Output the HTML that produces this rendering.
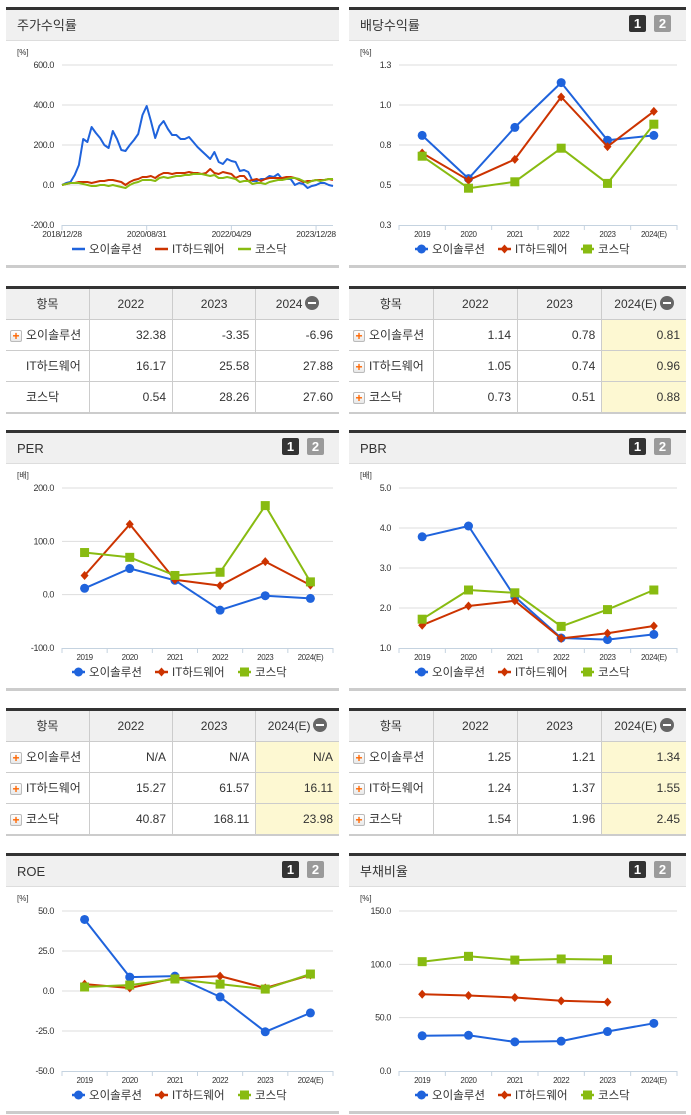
<!DOCTYPE html>
<html><head><meta charset="utf-8">
<style>
*{margin:0;padding:0;box-sizing:border-box}
body{width:691px;height:1115px;background:#fff;position:relative;overflow:hidden;font-family:"Liberation Sans","Noto Sans CJK KR","NanumGothic",sans-serif;color:#333}
.panel{position:absolute}
svg text{font-family:"Liberation Sans","Noto Sans CJK KR","NanumGothic",sans-serif}
table{border-collapse:collapse;width:100%;table-layout:fixed;font-size:12px}
.tbl{position:absolute;border-top:3px solid #333;border-bottom:2px solid #ccc}
.tbl th{background:#f0f0f0;font-weight:normal;height:30px;border-right:1px solid #ccc;border-bottom:1px solid #ccc;color:#333}
.tbl td{height:31px;border-right:1px solid #ccc;border-bottom:1px solid #ccc;text-align:right;padding-right:6px;color:#333}
.tbl tr:last-child td{border-bottom:none}
.tbl th:last-child,.tbl td:last-child{border-right:none}
.tbl td.lab{text-align:left;padding-left:4px;padding-right:0}
.tbl td.hl{background:#fdf8d2}
.plus{display:inline-block;width:12px;height:12px;border:1px solid #bbb;border-radius:2px;background:linear-gradient(#fff,#e8e8e8);color:#f60;font-size:12px;line-height:10px;text-align:center;font-weight:bold;vertical-align:-1px;margin-right:4px}
.minus{display:inline-block;width:14px;height:14px;border-radius:7px;background:#666;position:relative;vertical-align:-2px;margin-left:3px}
.minus:after{content:"";position:absolute;left:3px;top:6px;width:8px;height:2px;background:#fff}
</style></head><body>
<div id="charts"></div>

<div class="tbl" style="left:6px;top:286px;width:333px">
<table><tr><th>항목</th><th>2022</th><th>2023</th><th>2024<span class="minus"></span></th></tr>
<tr><td class="lab"><span class="plus">+</span>오이솔루션</td><td>32.38</td><td>-3.35</td><td>-6.96</td></tr>
<tr><td class="lab" style="padding-left:20px">IT하드웨어</td><td>16.17</td><td>25.58</td><td>27.88</td></tr>
<tr><td class="lab" style="padding-left:20px">코스닥</td><td>0.54</td><td>28.26</td><td>27.60</td></tr></table></div>

<div class="tbl" style="left:349px;top:286px;width:337px">
<table><tr><th>항목</th><th>2022</th><th>2023</th><th>2024(E)<span class="minus"></span></th></tr>
<tr><td class="lab"><span class="plus">+</span>오이솔루션</td><td>1.14</td><td>0.78</td><td class="hl">0.81</td></tr>
<tr><td class="lab"><span class="plus">+</span>IT하드웨어</td><td>1.05</td><td>0.74</td><td class="hl">0.96</td></tr>
<tr><td class="lab"><span class="plus">+</span>코스닥</td><td>0.73</td><td>0.51</td><td class="hl">0.88</td></tr></table></div>

<div class="tbl" style="left:6px;top:708px;width:333px">
<table><tr><th>항목</th><th>2022</th><th>2023</th><th>2024(E)<span class="minus"></span></th></tr>
<tr><td class="lab"><span class="plus">+</span>오이솔루션</td><td>N/A</td><td>N/A</td><td class="hl">N/A</td></tr>
<tr><td class="lab"><span class="plus">+</span>IT하드웨어</td><td>15.27</td><td>61.57</td><td class="hl">16.11</td></tr>
<tr><td class="lab"><span class="plus">+</span>코스닥</td><td>40.87</td><td>168.11</td><td class="hl">23.98</td></tr></table></div>

<div class="tbl" style="left:349px;top:708px;width:337px">
<table><tr><th>항목</th><th>2022</th><th>2023</th><th>2024(E)<span class="minus"></span></th></tr>
<tr><td class="lab"><span class="plus">+</span>오이솔루션</td><td>1.25</td><td>1.21</td><td class="hl">1.34</td></tr>
<tr><td class="lab"><span class="plus">+</span>IT하드웨어</td><td>1.24</td><td>1.37</td><td class="hl">1.55</td></tr>
<tr><td class="lab"><span class="plus">+</span>코스닥</td><td>1.54</td><td>1.96</td><td class="hl">2.45</td></tr></table></div>

<script>
// ---- data ----
const years = ["2019","2020","2021","2022","2023","2024(E)"];
const seriesNames = ["오이솔루션","IT하드웨어","코스닥"];
const stockDateLabels = ["2018/12/28","2020/08/31","2022/04/29","2023/12/28"];
const stockDateIdx = [0,20,40,60];
const stockTicks = [600,400,200,0,-200];
const stockBlue = [0,10,15,50,100,230,215,290,260,235,200,185,270,230,175,170,200,225,255,350,395,320,235,295,320,280,250,250,230,230,240,215,190,170,150,130,165,115,105,130,120,115,70,75,65,20,20,30,30,45,40,55,30,30,30,0,10,5,-15,-5,0,10,10,0,-5];
const stockRed = [0,5,10,10,15,15,15,10,15,20,20,25,25,20,15,0,15,25,30,40,40,45,35,50,60,60,55,60,60,60,65,60,60,55,60,80,60,55,65,60,55,35,45,45,20,25,30,20,30,35,35,35,35,40,40,35,25,15,20,20,25,25,25,30,25];
const stockGreen = [0,5,10,10,10,5,0,-5,-5,0,0,-5,0,-5,-10,-15,0,10,15,25,25,25,20,35,40,35,40,45,45,50,50,55,55,55,50,45,50,35,35,40,35,30,15,20,20,5,10,10,5,15,20,25,25,30,35,35,30,20,10,20,25,20,25,30,30];
const divTicks = [1.25,1.0,0.75,0.5,0.25];
const divTickLabels = ["1.3","1.0","0.8","0.5","0.3"];
const divBlue = [0.81,0.54,0.86,1.14,0.78,0.81];
const divRed = [0.70,0.53,0.66,1.05,0.74,0.96];
const divGreen = [0.68,0.48,0.52,0.73,0.51,0.88];
const perTicks = [200,100,0,-100];
const perBlue = [12,49,27,-29,-2,-7];
const perRed = [36,132,28,17,62,18];
const perGreen = [79,70,36,42,167,24];
const pbrTicks = [5,4,3,2,1];
const pbrBlue = [3.78,4.05,2.28,1.25,1.21,1.34];
const pbrRed = [1.57,2.05,2.18,1.24,1.37,1.55];
const pbrGreen = [1.72,2.45,2.38,1.54,1.96,2.45];
const roeTicks = [50,25,0,-25,-50];
const roeBlue = [44.7,8.7,9.3,-3.7,-25.5,-13.7];
const roeRed = [4.3,1.9,8.0,9.3,1.9,10.0];
const roeGreen = [2.5,3.7,7.5,4.3,1.2,10.6];
const debtTicks = [150,100,50,0];
const debtBlue = [33,33.5,27.3,28,37,44.7];
const debtRed = [72,70.8,68.9,65.8,64.6,null];
const debtGreen = [102.5,107.5,104,105,104.4,null];

const COLORS = ["#1f63dc","#cc3300","#88bb11"];
const NS = "http://www.w3.org/2000/svg";
function el(tag, attrs, parent){const e=document.createElementNS(NS,tag);for(const k in attrs)e.setAttribute(k,attrs[k]);if(parent)parent.appendChild(e);return e;}
function txt(parent,x,y,s,size,anchor,fill){const t=el("text",{x:x,y:y,"font-size":size,"text-anchor":anchor||"start",fill:fill||"#333"},parent);t.textContent=s;return t;}

function marker(g,type,x,y,color){
  let m;
  if(type===0) m=el("circle",{cx:x,cy:y,r:4.5,fill:color},g);
  else if(type===1) m=el("path",{d:`M${x} ${y-4.5}L${x+4} ${y}L${x} ${y+4.5}L${x-4} ${y}Z`,fill:color},g);
  else m=el("rect",{x:x-4.5,y:y-4.5,width:9,height:9,fill:color},g);
  
  
}

function panel(cfg){
  const W=cfg.w,H=261;
  const svg=el("svg",{width:W,height:H,viewBox:`0 0 ${W} ${H}`});
  svg.style.position="absolute";svg.style.left=cfg.x+"px";svg.style.top=cfg.y+"px";
  
  
  document.getElementById("charts").appendChild(svg);
  el("rect",{x:0,y:0,width:W,height:3,fill:"#333"},svg);
  const hd=el("rect",{x:0,y:3,width:W,height:30,fill:"#f0f0f0"},svg);
  
  
  el("rect",{x:0,y:33,width:W,height:1,fill:"#ddd"},svg);
  const tt=txt(svg,11,23,cfg.title,13,"start","#333");
  
  
  el("rect",{x:0,y:H-3,width:W,height:3,fill:"#ccc"},svg);
  if(cfg.buttons){
    const b1=el("g",{},svg);
    
    
    el("rect",{x:W-57,y:8,width:17,height:17,rx:2,fill:"#333"},b1);
    txt(b1,W-48.5,21,"1",13,"middle","#fff").setAttribute("font-weight","bold");
    const b2=el("g",{},svg);
    
    
    el("rect",{x:W-32,y:8,width:17,height:17,rx:2,fill:"#9a9a9a"},b2);
    txt(b2,W-23.5,21,"2",13,"middle","#fff").setAttribute("font-weight","bold");
  }
  const u=txt(svg,11,48,cfg.unit,8,"start","#333");
  
  
  const top=58,bot=218,L=cfg.L,R=cfg.R;
  const ymin=cfg.ticks[cfg.ticks.length-1],ymax=cfg.ticks[0];
  const ys=v=>bot-(v-ymin)/(ymax-ymin)*(bot-top);
  cfg.ticks.forEach((t,i)=>{
    const y=ys(t);
    if(i<cfg.ticks.length-1){const gl=el("line",{x1:L,x2:R,y1:y,y2:y,stroke:"#ddd","stroke-width":1},svg);
      
      }
    const lab=txt(svg,L-8,y+3,cfg.tickLabels?cfg.tickLabels[i]:t.toFixed(1),9,"end","#333");
    lab.setAttribute("letter-spacing","-0.4");
    
    
  });
  const ax=el("line",{x1:L,x2:R,y1:bot+0.5,y2:bot+0.5,stroke:"#c5d3e0","stroke-width":1},svg);
  
  
  let xs;
  if(cfg.stock){
    const n=cfg.series[0].length;
    xs=i=>L+i*(R-L)/(n-1);
    stockDateIdx.forEach((di,k)=>{
      el("line",{x1:xs(di),x2:xs(di),y1:bot,y2:bot+5,stroke:"#c5d3e0"},svg);
      const xl=txt(svg,xs(di),bot+12,stockDateLabels[k],8.5,"middle","#333");
      xl.setAttribute("letter-spacing","-0.3");
      
      
    });
  } else {
    const bw=(R-L)/years.length;
    xs=i=>L+bw*(i+0.5);
    for(let i=0;i<=years.length;i++) el("line",{x1:L+bw*i,x2:L+bw*i,y1:bot,y2:bot+5,stroke:"#c5d3e0"},svg);
    years.forEach((yv,i)=>{
      const xl=txt(svg,xs(i),bot+12,yv,8,"middle","#333");
      xl.setAttribute("letter-spacing","-0.4");
      
      
    });
  }
  cfg.series.forEach((vals,s)=>{
    let d="";let pen=false;
    vals.forEach((v,i)=>{ if(v===null){pen=false;return;} d+=(pen?"L":"M")+xs(i).toFixed(1)+" "+ys(v).toFixed(1);pen=true;});
    const p=el("path",{d:d,fill:"none",stroke:COLORS[s],"stroke-width":2,"stroke-linejoin":"round"},svg);
    
    
    if(!cfg.stock) vals.forEach((v,i)=>{ if(v!==null) marker(svg,s,xs(i),ys(v),COLORS[s]); });
  });
  const lx=[66,149,232];
  seriesNames.forEach((nm,s)=>{
    const g=el("g",{},svg);
    
    
    el("line",{x1:lx[s],x2:lx[s]+13,y1:242,y2:242,stroke:COLORS[s],"stroke-width":2.5},g);
    if(!cfg.stock){ [()=>el("circle",{cx:lx[s]+6.5,cy:242,r:4.5,fill:COLORS[s]},g),()=>el("path",{d:`M${lx[s]+6.5} 237.5L${lx[s]+10.5} 242L${lx[s]+6.5} 246.5L${lx[s]+2.5} 242Z`,fill:COLORS[s]},g),()=>el("rect",{x:lx[s]+2,y:237.5,width:9,height:9,fill:COLORS[s]},g)][s](); }
    txt(g,lx[s]+17,246,nm,11.5,"start","#333");
  });
}

panel({name:"stock-return-chart",x:6,y:7,w:333,title:"주가수익률",buttons:false,unit:"[%]",ticks:stockTicks,L:56,R:327,stock:true,series:[stockBlue,stockRed,stockGreen]});
panel({name:"dividend-yield-chart",x:349,y:7,w:337,title:"배당수익률",buttons:true,unit:"[%]",ticks:divTicks,tickLabels:divTickLabels,L:50,R:328,series:[divBlue,divRed,divGreen]});
panel({name:"per-chart",x:6,y:430,w:333,title:"PER",buttons:true,unit:"[배]",ticks:perTicks,L:56,R:327,series:[perBlue,perRed,perGreen]});
panel({name:"pbr-chart",x:349,y:430,w:337,title:"PBR",buttons:true,unit:"[배]",ticks:pbrTicks,L:50,R:328,series:[pbrBlue,pbrRed,pbrGreen]});
panel({name:"roe-chart",x:6,y:853,w:333,title:"ROE",buttons:true,unit:"[%]",ticks:roeTicks,L:56,R:327,series:[roeBlue,roeRed,roeGreen]});
panel({name:"debt-ratio-chart",x:349,y:853,w:337,title:"부채비율",buttons:true,unit:"[%]",ticks:debtTicks,L:50,R:328,series:[debtBlue,debtRed,debtGreen]});
</script>
</body></html>
